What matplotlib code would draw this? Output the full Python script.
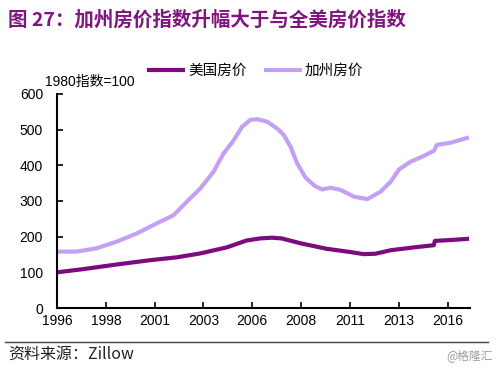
import matplotlib
matplotlib.use("Agg")
import matplotlib.pyplot as plt

plt.rcParams['font.family'] = ['Liberation Sans', 'Noto Sans CJK SC', 'DejaVu Sans']

# Data (year, index value, 1980 = 100)
us_years = [1996.0, 1997.35, 1999.06, 2000.77, 2002.14, 2003.34, 2004.7, 2005.7,
            2006.4, 2007.0, 2007.5, 2008.5, 2009.8, 2011.0, 2011.7, 2012.3, 2013.1,
            2014.3, 2015.3, 2015.35, 2016.3, 2017.1]
us_vals = [100, 109, 122, 134, 142, 153, 170, 189,
           195, 197, 195, 181, 166, 157, 151, 152, 162,
           170, 176, 188, 191, 194]

ca_years = [1996.0, 1997.0, 1998.0, 1999.06, 2000.09, 2001.1, 2001.97, 2002.31, 2002.65,
            2003.34, 2004.02, 2004.53, 2005.05, 2005.48, 2005.9, 2006.25, 2006.76,
            2007.27, 2007.61, 2007.96, 2008.3, 2008.72, 2009.2, 2009.58, 2010.01,
            2010.52, 2011.2, 2011.89, 2012.57, 2013.09, 2013.51, 2014.11, 2014.79,
            2015.31, 2015.45, 2016.16, 2017.1]
ca_vals = [158, 158, 167, 186, 209, 237, 260, 279, 298,
           335, 382, 433, 470, 508, 527, 529, 522,
           503, 485, 452, 405, 366, 342, 332, 337,
           331, 312, 305, 326, 354, 388, 410, 426,
           441, 457, 463, 478]

tick_pos = [1996.0, 1998.5, 2001.0, 2003.5, 2006.0, 2008.5, 2011.0, 2013.5, 2016.0]
tick_labels = ['1996', '1998', '2001', '2003', '2006', '2008', '2011', '2013', '2016']
y_ticks = [0, 100, 200, 300, 400, 500, 600]

title = '图 27：加州房价指数升幅大于与全美房价指数'
series_names = ['美国房价', '加州房价']
unit_label = '1980指数=100'
source = '资料来源：Zillow'
watermark = '@格隆汇'

US_COLOR = '#7E0A80'
CA_COLOR = '#C4A0F4'

fig = plt.figure(figsize=(5.0, 3.68), dpi=100)
ax = fig.add_axes([0.114, 0.163, 0.826, 0.582])

l1, = ax.plot(us_years, us_vals, color=US_COLOR, lw=3.0, solid_capstyle='butt',
              solid_joinstyle='round')
l2, = ax.plot(ca_years, ca_vals, color=CA_COLOR, lw=3.0, solid_capstyle='butt',
              solid_joinstyle='round')

ax.set_xlim(1996.0, 2017.15)
ax.set_ylim(0, 600)
ax.set_xticks(tick_pos)
ax.set_xticklabels(tick_labels)
ax.set_yticks(y_ticks)
ax.tick_params(direction='in', length=4, width=1.2, labelsize=10, colors='black')
ax.tick_params(axis='x', pad=4)
ax.tick_params(axis='y', pad=10)
for s in ['top', 'right']:
    ax.spines[s].set_visible(False)
for s in ['left', 'bottom']:
    ax.spines[s].set_linewidth(1.5)
    ax.spines[s].set_color('black')

leg = fig.legend([l1, l2], series_names, loc='center left', bbox_to_anchor=(0.268, 0.808),
                 ncol=2, frameon=False, handlelength=2.6, handletextpad=0.2,
                 columnspacing=1.2, prop={'family': ['Noto Sans CJK SC'], 'size': 10.5})

fig.text(0.09, 0.777, unit_label, fontsize=10, ha='left', va='center',
         family=['Liberation Sans', 'Noto Sans CJK SC'])

fig.text(0.016, 0.945, title, fontsize=14, fontweight='bold', color='#80157F',
         ha='left', va='center', family=['Noto Sans CJK SC', 'DejaVu Sans'])

fig.add_artist(plt.Line2D([0.01, 0.975], [0.072, 0.072], color='#444444', lw=1.0,
                          transform=fig.transFigure))
fig.text(0.016, 0.037, source, fontsize=11.5, ha='left', va='center', color='#222222',
         family=['Noto Sans CJK SC', 'DejaVu Sans'])
fig.text(0.986, 0.035, watermark, fontsize=8.5, ha='right', va='center', color='#9a9a9a',
         family=['Noto Sans CJK SC', 'DejaVu Sans'])

fig.savefig('out.png', dpi=100, facecolor='white')
